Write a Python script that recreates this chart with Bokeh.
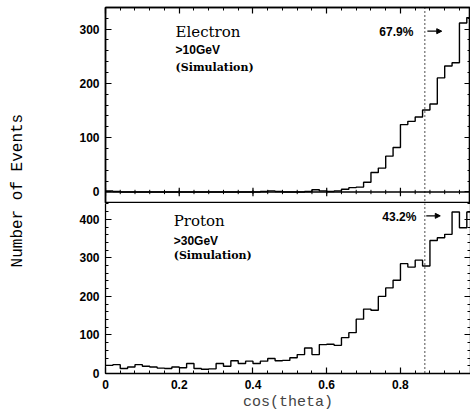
import numpy as np
from bokeh.plotting import figure
from bokeh.layouts import row, column
from bokeh.models import (LinearAxis, SingleIntervalTicker, NumeralTickFormatter,
                          Span, Arrow, NormalHead, Range1d)
from bokeh.core.properties import value
from bokeh.embed import file_html
from bokeh.resources import INLINE

# ---------------- data ----------------
bin_width = 0.02
electron_counts = [2, 1, 0, 0, 0, 0, 0, 0, 0, 0,
                   0, 0, 0, 0, 0, 0, 0, 0, 0, 0,
                   0, 1, 2, 1, 0, 0, 0, 1, 4, 2,
                   1, 2, 5, 8, 9, 18, 36, 44, 66, 82,
                   124, 130, 138, 151, 162, 210, 232, 238, 311, 321]
proton_counts = [21, 23, 13, 17, 23, 19, 17, 14, 13, 17,
                 15, 26, 13, 11, 12, 26, 19, 33, 26, 32,
                 26, 32, 39, 33, 34, 41, 49, 66, 49, 75,
                 76, 73, 93, 106, 141, 167, 164, 200, 222, 242,
                 285, 276, 294, 279, 345, 352, 361, 419, 378, 419]
cut_cos = 0.866
electron_title = ["Electron", ">10GeV", "(Simulation)"]
proton_title = ["Proton", ">30GeV", "(Simulation)"]
electron_frac = "67.9%"
proton_frac = "43.2%"
x_label = "cos(theta)"
y_label = "Number of Events"
x_major_step = 0.2
x_minor_step = 0.04

SERIF = value("DejaVu Serif")
SANS = value("Liberation Sans")
MONO = value("Liberation Mono")

x_range = Range1d(0, 0.99)


def style_axis(ax, labels):
    ax.axis_line_color = "black"
    ax.axis_line_width = 1.3
    ax.major_tick_line_color = "black"
    ax.minor_tick_line_color = "black"
    ax.major_tick_line_width = 1.2
    ax.minor_tick_line_width = 1.0
    ax.major_tick_in = 6
    ax.major_tick_out = 0
    ax.minor_tick_in = 3
    ax.minor_tick_out = 0
    if labels:
        ax.major_label_text_font = "Liberation Sans"
        ax.major_label_text_font_style = "bold"
        ax.major_label_text_font_size = "12px"
        ax.major_label_text_color = "black"
        ax.major_label_standoff = 6
    else:
        ax.major_label_text_color = None
        ax.major_label_standoff = 0


def make_panel(counts, y_start, y_end, frame_h, border_top, border_bottom, with_top):
    p = figure(frame_width=365, frame_height=frame_h, x_range=x_range,
               y_range=Range1d(y_start, y_end),
               output_backend="svg", toolbar_location=None,
               x_axis_type=None, y_axis_type=None,
               min_border_left=65, min_border_right=0,
               min_border_top=border_top, min_border_bottom=border_bottom)
    p.outline_line_color = "black" if with_top else None
    p.outline_line_width = 1.6
    p.background_fill_color = "white"
    p.border_fill_color = "white"
    yt = SingleIntervalTicker(interval=100, num_minor_ticks=5)
    xt = SingleIntervalTicker(interval=x_major_step, num_minor_ticks=5)
    left = LinearAxis(ticker=yt)
    style_axis(left, True)
    p.add_layout(left, "left")
    right = LinearAxis(ticker=yt)
    style_axis(right, False)
    p.add_layout(right, "right")
    if with_top:
        top = LinearAxis(ticker=xt)
        style_axis(top, False)
        p.add_layout(top, "above")
    edges = np.arange(len(counts) + 1) * bin_width
    ys = list(counts) + [counts[-1]]
    p.step(x=edges, y=ys, mode="after", line_color="black", line_width=1.4)
    p.add_layout(Span(location=cut_cos, dimension="height", line_color="black",
                      line_width=1.4, line_dash="1 3"))
    return p, xt


def add_notes(p, x0, ys, titles, frac_x, frac_y, frac, arr_x0, arr_x1, arr_y):
    p.text(x=[x0], y=[ys[0]], text=[titles[0]], text_font=SERIF,
           text_font_size="15px", text_baseline="middle", text_align="left", text_color="black")
    p.text(x=[x0], y=[ys[1]], text=[titles[1]], text_font=SANS, text_font_style="bold",
           text_font_size="12px", text_baseline="middle", text_align="left", text_color="black")
    p.text(x=[x0], y=[ys[2]], text=[titles[2]], text_font=SERIF, text_font_style="bold",
           text_font_size="11px", text_baseline="middle", text_align="left", text_color="black")
    p.text(x=[frac_x], y=[frac_y], text=[frac], text_font=SANS, text_font_style="bold",
           text_font_size="12px", text_baseline="middle", text_align="right", text_color="black")
    p.add_layout(Arrow(x_start=arr_x0, y_start=arr_y, x_end=arr_x1, y_end=arr_y,
                       line_width=1.2, end=NormalHead(size=5, fill_color="black", line_color="black")))


# ---------------- top panel (electron) ----------------
p1, xt1 = make_panel(electron_counts, -21.2, 339.6, 196, 7, 0, True)
# zero line of the upper panel with crossing ticks
p1.add_layout(Span(location=0, dimension="width", line_color="black", line_width=1.3))
minor_x = np.arange(0, 1.0 + 1e-9, x_minor_step)
major_x = np.arange(0, 1.0 + 1e-9, x_major_step)
p1.segment(x0=minor_x, y0=-4, x1=minor_x, y1=4, line_color="black", line_width=1.0)
p1.segment(x0=major_x, y0=-8, x1=major_x, y1=8, line_color="black", line_width=1.2)
add_notes(p1, 0.19, [295, 261, 230], electron_title, 0.835, 295, electron_frac, 0.873, 0.912, 296)

# ---------------- bottom panel (proton) ----------------
p2, xt2 = make_panel(proton_counts, 0, 441, 170, 0, 43, False)
bottom = LinearAxis(ticker=xt2, formatter=NumeralTickFormatter(format="0.[0]"))
style_axis(bottom, True)
bottom.major_label_standoff = 6
bottom.axis_label = x_label
bottom.axis_label_text_font = "Liberation Mono"
bottom.axis_label_text_font_style = "normal"
bottom.axis_label_text_font_size = "15px"
bottom.axis_label_standoff = 2
p2.add_layout(bottom, "below")
add_notes(p2, 0.185, [395, 344, 305], proton_title, 0.843, 407, proton_frac, 0.87, 0.908, 409)

# ---------------- y label strip ----------------
pl = figure(width=40, height=416, x_range=(0, 1), y_range=(0, 1),
            output_backend="svg", toolbar_location=None,
            x_axis_type=None, y_axis_type=None,
            min_border=0)
pl.outline_line_color = None
pl.text(x=[0.44], y=[0.543], text=[y_label], angle=np.pi / 2, text_font=MONO,
        text_font_size="16px", text_align="center", text_baseline="middle", text_color="black")

layout = row(pl, column(p1, p2, spacing=0), spacing=0)

open("out.html", "w").write(file_html(layout, INLINE))
